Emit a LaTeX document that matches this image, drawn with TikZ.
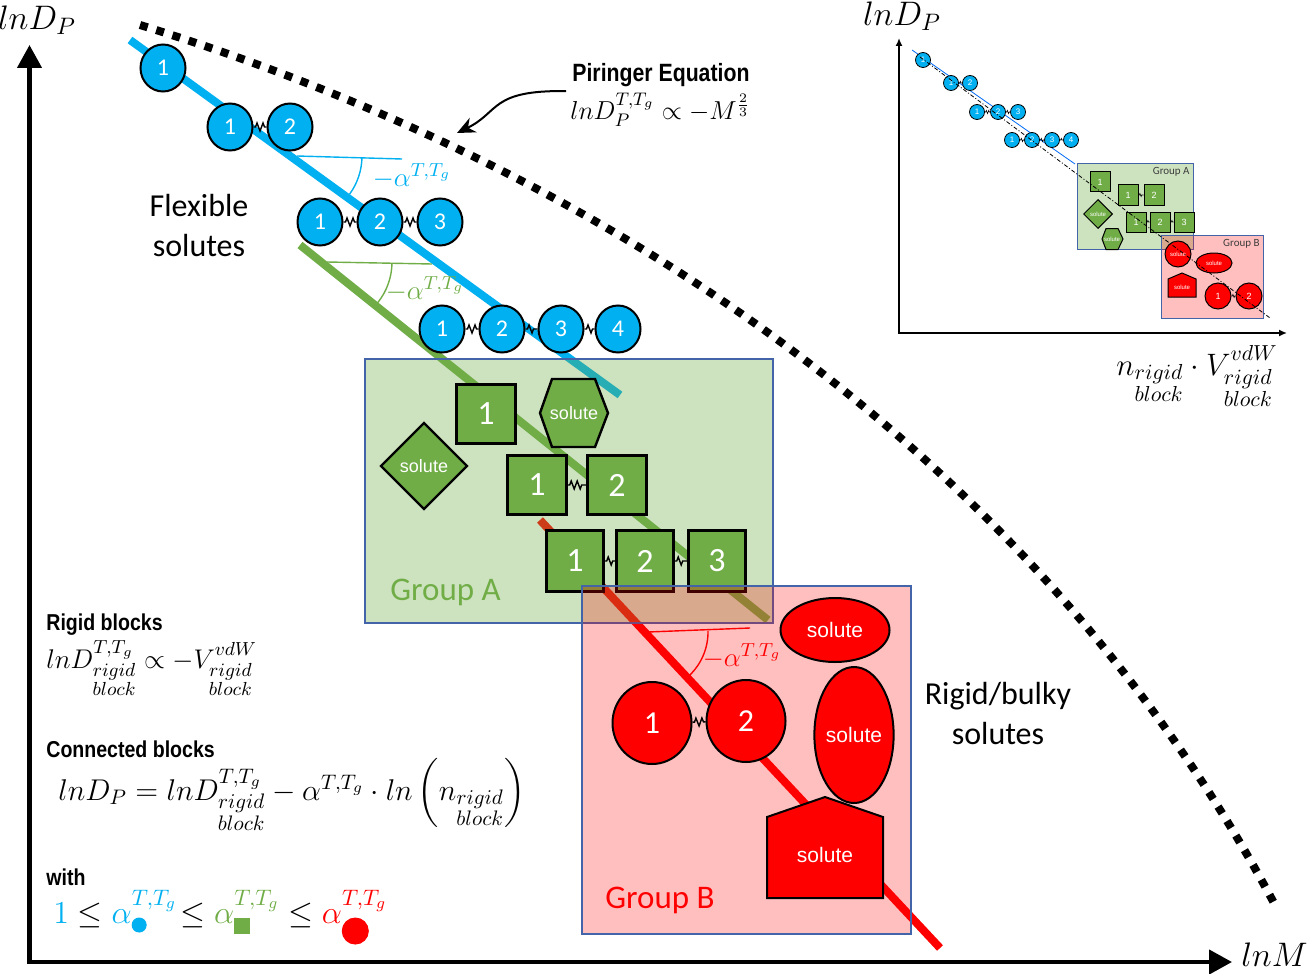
\RequirePackage{fix-cm}
\documentclass[tikz,border=0pt]{standalone}
\usepackage{amsmath}
\usepackage{fontspec}
\usepackage{tikz}
\usetikzlibrary{arrows.meta,shapes.geometric,decorations.pathmorphing}

\newfontfamily\calib{Carlito}
\newfontfamily\arial{Liberation Sans}
\newfontfamily\arialn[FakeStretch=0.85]{Liberation Sans}

\definecolor{cyanb}{RGB}{0,176,240}
\definecolor{greenb}{RGB}{112,173,71}
\definecolor{boxedge}{RGB}{68,100,170}
\definecolor{inkgray}{RGB}{60,60,60}

\newcommand{\fs}[2]{\fontsize{#1}{#2}\selectfont}
\newcommand{\subdot}[3]{\tikz[baseline=#3]\draw[line width=0.5pt,fill=#1] (0,0) circle[radius=#2];}
\newcommand{\subsq}[2]{\tikz[baseline=#2]\draw[line width=0.5pt,fill=#1] (-3.75pt,-3.75pt) rectangle (3.75pt,3.75pt);}
\newcommand{\rb}{\substack{rigid\\block}}

\begin{document}
\begin{tikzpicture}[x=0.5pt,y=-0.5pt,
    axisline/.style={line width=2.2pt},
    trend/.style={line width=4pt},
    anglemark/.style={line width=0.7pt},
    bead/.style={ellipse,draw=black,line width=1pt,fill=cyanb,text=white,inner sep=0pt,
        minimum width=22.5pt,minimum height=23.5pt,font=\calib\fs{12}{14}},
    block/.style={rectangle,draw=black,line width=1.2pt,fill=greenb,text=white,inner sep=0pt,
        minimum size=29.5pt,font=\calib\fs{17}{20}},
    rbead/.style={ellipse,draw=black,line width=1pt,fill=red,text=white,inner sep=0pt,
        minimum width=39.5pt,minimum height=41pt,font=\calib\fs{16}{19}},
    solute/.style={text=white,inner sep=0pt,font=\arial\fs{9}{11}},
    redsolute/.style={solute,font=\arial\fs{10.5}{12}},
    spring/.style={line width=0.7pt,decorate,decoration={zigzag,amplitude=2pt,segment length=3pt,
        pre length=1pt,post length=1pt}},
    grpbox/.style={draw=boxedge,line width=0.7pt},
    heading/.style={anchor=base west,inner sep=0pt,font=\arialn\bfseries\fs{11.5}{14}},
    formula/.style={anchor=base west,inner sep=0pt},
    bigtext/.style={align=center,font=\calib\fs{16}{20}},
    minibead/.style={circle,draw=black,line width=0.4pt,fill=cyanb,text=white,inner sep=0pt,
        minimum size=7.5pt,font=\arial\fs{4}{5}},
    miniblock/.style={rectangle,draw=black,line width=0.5pt,fill=greenb,text=white,inner sep=0pt,
        minimum size=10pt,font=\arial\fs{4.5}{5}},
    minired/.style={ellipse,draw=black,line width=0.5pt,fill=red,text=white,inner sep=0pt,
        minimum width=13pt,minimum height=13pt,font=\arial\fs{4.5}{5}},
    minisolute/.style={text=white,inner sep=0pt,font=\arial\fs{3}{4}},
    minispring/.style={line width=0.3pt,decorate,decoration={zigzag,amplitude=0.8pt,segment length=1.2pt,
        pre length=0.4pt,post length=0.4pt}},
]
\useasboundingbox (0,0) rectangle (1309,973);

%trend lines of the three families
    \coordinate (bl0) at (130,40);  \coordinate (bl1) at (620,395);
    \coordinate (gl0) at (300,245); \coordinate (gl1) at (768,620);
    \coordinate (rl0) at (540,520); \coordinate (rl1) at (940,948);
    \draw[trend,cyanb] (bl0) -- (bl1);
    \draw[trend,greenb] (gl0) -- (gl1);
    \draw[trend,red] (rl0) -- (rl1);

%dotted Piringer curve
    \draw[line width=4pt,dash pattern=on 4pt off 4.5pt] (140,25) .. controls (660,185) and (1060,500) .. (1275,905);

%axes
    \coordinate (orig) at (29.5,962);
    \coordinate (ytip) at (29.5,45);
    \coordinate (xtip) at (1232,962);
    \draw[axisline,{Triangle[length=11.5pt,width=12pt]}-{Triangle[length=11.5pt,width=12pt]}] (ytip) -- (orig) -- (xtip);
    \node[font=\fs{17}{19}] (ylab) at (37,20) {$lnD_P$};
    \node[formula,anchor=base east,font=\fs{17}{19}] (xlab) at (1308,966) {$lnM$};

%Piringer label and arrow
    \node[anchor=west,inner sep=0pt,font=\arialn\bfseries\fs{12.5}{15}] (piringer) at (572,75) {Piringer Equation};
    \node[anchor=west,inner sep=0pt,font=\fs{13}{15}] (pireq) at (570,110) {$lnD_P^{T,T_g}\propto -M^{\frac{2}{3}}$};
    \coordinate (pirtip) at (457,133);
    \draw[line width=1pt,-{Stealth[length=9pt,width=8pt]}] ([xshift=-3pt,yshift=-2pt]piringer.south west) .. controls (490,90) and (500,112) .. (pirtip);

%slope marks
    \draw[anglemark,cyanb] (297,156) -- (402,159);
    \draw[anglemark,cyanb] (297,156) ++(1:65) arc[start angle=1,end angle=36,radius=65];
    \node[text=cyanb,font=\fs{13.5}{15}] (alphab) at (412,176) {$-\alpha^{T,T_g}$};
    \draw[anglemark,greenb] (327,262) -- (432,264);
    \draw[anglemark,greenb] (327,262) ++(1:65) arc[start angle=1,end angle=39,radius=65];
    \node[text=greenb,font=\fs{13.5}{15}] (alphag) at (425,289) {$-\alpha^{T,T_g}$};
    \draw[anglemark,red] (648,632) -- (750,628);
    \draw[anglemark,red] (648,632) ++(-1:60) arc[start angle=-1,end angle=47,radius=60];
    \node[text=red,font=\fs{13.5}{15}] (alphar) at (742,656) {$-\alpha^{T,T_g}$};

%flexible beads
    \node[bead] (a1) at (163,68) {1};
    \foreach \i/\x in {1/230,2/290} \node[bead] (b\i) at (\x,127) {\i};
    \foreach \i/\x in {1/320,2/380,3/440} \node[bead] (c\i) at (\x,222) {\i};
    \foreach \i/\x in {1/442,2/502,3/561,4/618} \node[bead] (d\i) at (\x,329) {\i};
    \draw[spring] (b1) -- (b2);
    \foreach \i/\j in {1/2,2/3} \draw[spring] (c\i) -- (c\j);
    \foreach \i/\j in {1/2,2/3,3/4} \draw[spring] (d\i) -- (d\j);
    \node[bigtext] (flex) at (199,226) {Flexible\\solutes};

%group A
    \draw[grpbox,fill=greenb,fill opacity=0.35] (365,359) rectangle (773,623);
    \node[formula,text=greenb,font=\calib\fs{16.5}{20}] (grpA) at (390,600) {Group A};
    \node[block] (e1) at (486,414) {1};
    \foreach \i/\x in {1/537,2/617} \node[block] (f\i) at (\x,485) {\i};
    \foreach \i/\x in {1/575,2/645,3/717} \node[block,minimum width=28.5pt,minimum height=30.5pt] (g\i) at (\x,561) {\i};
    \draw[spring] (f1) -- (f2);
    \foreach \i/\j in {1/2,2/3} \draw[spring] (g\i) -- (g\j);
    \node[diamond,draw=black,line width=1.2pt,fill=greenb,minimum size=43.5pt,solute] (diaA) at (424,466) {solute};
    \draw[line width=1.2pt,fill=greenb] (540,413) -- (552,379) -- (595,379) -- (608,413) -- (595,447) -- (552,447) -- cycle;
    \node[solute] (hexA) at (574,413) {solute};

%group B
    \draw[grpbox,fill=red,fill opacity=0.25] (582,586) rectangle (911,934);
    \node[formula,text=red,font=\calib\fs{16.5}{20}] (grpB) at (605,908) {Group B};
    \node[rbead] (h1) at (652,723) {1};
    \node[rbead] (h2) at (746,721) {2};
    \draw[spring] (h1) -- (h2);
    \node[ellipse,draw=black,line width=1pt,fill=red,minimum width=54.5pt,minimum height=32pt,redsolute] (ellB) at (835,630) {solute};
    \node[ellipse,draw=black,line width=1pt,fill=red,minimum width=39.5pt,minimum height=68pt,redsolute] (ovalB) at (854,735) {solute};
    \draw[line width=1pt,fill=red] (767,817) -- (825,797) -- (883,817) -- (883,898) -- (767,898) -- cycle;
    \node[redsolute] (houseB) at (825,855) {solute};
    \node[bigtext] (bulky) at (998,713) {Rigid/bulky\\solutes};

%equations on the left
    \node[heading] (rbhead) at (46,630) {Rigid blocks};
    \node[formula,font=\fs{13.5}{15}] (rbeq) at (46,668)
        {$lnD^{T,T_g\vphantom{g}}_{\rb} \propto -V^{vdW\vphantom{g}}_{\rb}$};
    \node[heading] (cbhead) at (46,757) {Connected blocks};
    \node[formula,font=\fs{15}{17}] (cbeq) at (58,800)
        {$lnD_P = lnD^{T,T_g}_{\rb} - \alpha^{T,T_g}\cdot ln\left(n_{\rb}\right)$};
    \node[heading] (withhead) at (46,885) {with};
    \node[formula,font=\fs{16}{19}] (ineq) at (53,923)
        {${\color{cyanb}1} \leq {\color{cyanb}\alpha^{T,T_g}_{\subdot{cyanb}{3.5pt}{-4pt}}}\! \leq {\color{greenb}\alpha^{T,T_g}_{\subsq{greenb}{-3pt}}} \leq {\color{red}\alpha^{T,T_g}_{\subdot{red}{6.5pt}{0pt}}}$};

%inset plot
    \coordinate (io) at (899,333);
    \coordinate (iytip) at (899,38);
    \coordinate (ixtip) at (1287,333);
    \draw[line width=0.8pt,{Latex[length=4pt,width=3.5pt]}-{Latex[length=4pt,width=3.5pt]}] (iytip) -- (io) -- (ixtip);
    \node[font=\fs{17}{19}] (iylab) at (902,16) {$lnD_P$};
    \node[font=\fs{15.5}{18}] (ixlab) at (1197,376) {$n_{\rb}\cdot V^{vdW\vphantom{g}}_{\rb}$};
    \draw[cyanb!60!blue,line width=0.4pt] (912,50) -- (1075,164);
    \node[minibead] (ia1) at (923,60) {1};
    \foreach \i/\x in {1/951,2/970} \node[minibead] (ib\i) at (\x,83) {\i};
    \foreach \i/\x in {1/977,2/998,3/1018} \node[minibead] (ic\i) at (\x,112) {\i};
    \foreach \i/\x in {1/1012,2/1032,3/1052,4/1071} \node[minibead] (id\i) at (\x,140) {\i};
    \draw[minispring] (ib1) -- (ib2);
    \foreach \i/\j in {1/2,2/3} \draw[minispring] (ic\i) -- (ic\j);
    \foreach \i/\j in {1/2,2/3,3/4} \draw[minispring] (id\i) -- (id\j);
    \draw[grpbox,line width=0.5pt,fill=greenb,fill opacity=0.35] (1077,164) rectangle (1193,249);
    \node[formula,anchor=base east,text=inkgray,font=\calib\fs{5.5}{6}] (igrpA) at (1190,175) {Group A};
    \node[miniblock] (ie1) at (1100,182) {1};
    \foreach \i/\x in {1/1128,2/1154} \node[miniblock] (if\i) at (\x,195) {\i};
    \foreach \i/\x in {1/1136,2/1160,3/1184} \node[miniblock] (ig\i) at (\x,222) {\i};
    \draw[minispring] (if1) -- (if2);
    \foreach \i/\j in {1/2,2/3} \draw[minispring] (ig\i) -- (ig\j);
    \node[diamond,draw=black,line width=0.5pt,fill=greenb,minimum size=14.5pt,minisolute] (idia) at (1098,214) {solute};
    \draw[line width=0.5pt,fill=greenb] (1102,239) -- (1106,228.5) -- (1118,228.5) -- (1123,239) -- (1118,249.5) -- (1106,249.5) -- cycle;
    \node[minisolute] (ihex) at (1112,239) {solute};
    \draw[grpbox,line width=0.5pt,fill=red,fill opacity=0.25] (1161,235) rectangle (1263,318);
    \node[formula,anchor=base east,text=inkgray,font=\calib\fs{5.5}{6}] (igrpB) at (1260,246) {Group B};
    \node[minired,minisolute] (icir) at (1178,254) {solute};
    \node[minired,minimum width=18pt,minimum height=10pt,minisolute] (iell) at (1214,263) {solute};
    \draw[line width=0.5pt,fill=red] (1168,279) -- (1182,273) -- (1196,279) -- (1196,297) -- (1168,297) -- cycle;
    \node[minisolute] (ihouse) at (1182,287) {solute};
    \node[minired] (ih1) at (1218,296) {1};
    \node[minired] (ih2) at (1249,296) {2};
    \draw[minispring] (ih1) -- (ih2);
    \draw[line width=0.4pt,dash pattern=on 2pt off 1pt on 0.5pt off 1pt] (920,57) -- (1270,318);

\end{tikzpicture}
\end{document}
